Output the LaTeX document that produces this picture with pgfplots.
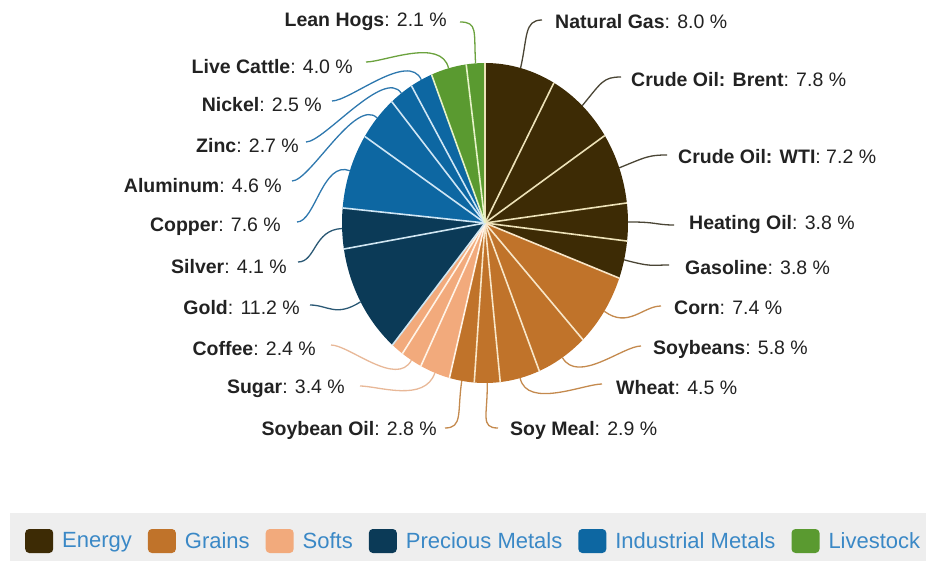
\documentclass[border=0pt]{standalone}
\usepackage{pgfplots}
\pgfplotsset{compat=1.18}
\usepackage{pgfplotstable}
\usepackage{fontspec}
\setmainfont{Liberation Sans}
\definecolor{energy}{HTML}{3D2B05}
\definecolor{grains}{HTML}{C0732A}
\definecolor{softs}{HTML}{F2AA7C}
\definecolor{precious}{HTML}{0B3A57}
\definecolor{industrial}{HTML}{0D67A2}
\definecolor{livestock}{HTML}{5A9A30}
\definecolor{energyS}{HTML}{EDE2B8}
\definecolor{grainsS}{HTML}{F8E6C8}
\definecolor{softsS}{HTML}{FFF3E6}
\definecolor{preciousS}{HTML}{D0E6F2}
\definecolor{industrialS}{HTML}{CFE6F5}
\definecolor{livestockS}{HTML}{E6F2C8}
\definecolor{energyL}{HTML}{4A4535}
\definecolor{grainsL}{HTML}{C48A4E}
\definecolor{softsL}{HTML}{E8B898}
\definecolor{preciousL}{HTML}{2A5874}
\definecolor{industrialL}{HTML}{2E78AE}
\definecolor{livestockL}{HTML}{6BA23E}
\definecolor{legtext}{HTML}{3A88C6}
\definecolor{labtext}{HTML}{222222}
\definecolor{legband}{HTML}{EEEEEE}

\pgfplotsset{legbox/.style={legend image code/.code={\path[##1,rounded corners=4pt] (0pt,-12pt) rectangle (28pt,12pt);}}}

% name, weight (%), group, label x/y (px, y downwards), side, leader end x/y
\pgfplotstableread[col sep=comma]{
name,value,group,lx,ly,side,ex,ey
Natural Gas,8.0,energy,555,22,w,542,20
Crude Oil: Brent,7.8,energy,631,80,w,621,77
Crude Oil: WTI,7.2,energy,678,157,w,667,155
Heating Oil,3.8,energy,689,225,w,674,225
Gasoline,3.8,energy,685,268,w,669,265
Corn,7.4,grains,674,308,w,661,306
Soybeans,5.8,grains,653,349,w,641,346
Wheat,4.5,grains,616,388,w,602,384
Soy Meal,2.9,grains,510,430,w,498,428
Soybean Oil,2.8,grains,437,430,e,445,428
Sugar,3.4,softs,345,389,e,360,386
Coffee,2.4,softs,316,349,e,331,345
Cotton,1.4,softs,0,0,n,0,0
Gold,11.2,precious,300,308,e,310,305
Silver,4.1,precious,287,267,e,298,262
Copper,7.6,industrial,281,227,e,297,222
Aluminum,4.6,industrial,282,186,e,292,181
Zinc,2.7,industrial,299,146,e,306,142
Nickel,2.5,industrial,322,105,e,332,101
Live Cattle,4.0,livestock,353,67,e,366,62
Lean Hogs,2.1,livestock,447,22,e,460,22
}\commodities

\begin{document}
\begin{tikzpicture}
\pgfplotstablegetrowsof{\commodities}
\pgfmathtruncatemacro\lastrow{\pgfplotsretval-1}
\xdef\cum{0}
\def\sideN{n}
\foreach \i in {0,...,\lastrow}{%
  \pgfplotstablegetelem{\i}{value}\of\commodities \let\val\pgfplotsretval
  \pgfplotstablegetelem{\i}{name}\of\commodities \let\nm\pgfplotsretval
  \pgfplotstablegetelem{\i}{group}\of\commodities \let\grp\pgfplotsretval
  \pgfplotstablegetelem{\i}{lx}\of\commodities \let\lx\pgfplotsretval
  \pgfplotstablegetelem{\i}{ly}\of\commodities \let\ly\pgfplotsretval
  \pgfplotstablegetelem{\i}{side}\of\commodities \let\side\pgfplotsretval
  \pgfplotstablegetelem{\i}{ex}\of\commodities \let\ex\pgfplotsretval
  \pgfplotstablegetelem{\i}{ey}\of\commodities \let\ey\pgfplotsretval
  \pgfmathsetmacro\sa{90-3.6*\cum}%
  \pgfmathsetmacro\newcum{\cum+\val}%
  \xdef\cum{\newcum}%
  \pgfmathsetmacro\ea{90-3.6*\cum}%
  \pgfmathsetmacro\ma{(\sa+\ea)/2}%
  \pgfmathsetmacro\sx{485+143*cos(\ma)}%
  \pgfmathsetmacro\sy{223-160*sin(\ma)}%
  \pgfmathsetmacro\cx{485+143*1.2*cos(\ma)}%
  \pgfmathsetmacro\cy{223-160*1.2*sin(\ma)}%
  \expandafter\xdef\csname pieSA\i\endcsname{\sa}%
  \expandafter\xdef\csname pieEA\i\endcsname{\ea}%
  \expandafter\xdef\csname pieGR\i\endcsname{\grp}%
  \ifx\side\sideN
    \expandafter\gdef\csname pieLBL\i\endcsname{}%
  \else
    \if w\side
      \def\anc{west}\pgfmathsetmacro\ccx{\ex-18}%
    \else
      \def\anc{east}\pgfmathsetmacro\ccx{\ex+18}%
    \fi
    \expandafter\xdef\csname pieLBL\i\endcsname{%
      \noexpand\draw[\grp L, line width=1.3pt]
        (axis cs:\sx,\sy) .. controls (axis cs:\cx,\cy) and (axis cs:\ccx,\ey) .. (axis cs:\ex,\ey);
      \noexpand\node[anchor=\anc, inner sep=0pt, text=labtext,
        font=\noexpand\fontsize{19.5}{22}\noexpand\selectfont]
        at (axis cs:\lx,\ly) {\noexpand\textbf{\nm}: \val\space\noexpand\%};}%
  \fi
}
\begin{axis}[
  width=926pt, height=561pt, scale only axis,
  xmin=0, xmax=926, ymin=0, ymax=561, y dir=reverse,
  hide axis, clip=false,
  legend columns=6,
  legend style={at={(axis cs:22,541)}, anchor=west, draw=none, fill=none, overlay,
    font=\fontsize{22}{24}\selectfont, text=legtext,
    /tikz/every odd column/.append style={column sep=7pt},
    /tikz/every even column/.append style={column sep=14pt}},
]
\path (axis cs:0,0) rectangle (axis cs:926,561);
\fill[legband] (axis cs:10,513) rectangle (axis cs:926,561);
\pgfplotsinvokeforeach{0,...,\lastrow}{%
  \edef\tmp{\noexpand\fill[\csname pieGR#1\endcsname] (axis cs:485,223) -- ++(\csname pieSA#1\endcsname:143pt and 160pt)
    arc[start angle=\csname pieSA#1\endcsname, end angle=\csname pieEA#1\endcsname, x radius=143pt, y radius=160pt] -- cycle;}%
  \tmp
}
\pgfplotsinvokeforeach{0,...,\lastrow}{%
  \edef\tmp{\noexpand\draw[\csname pieGR#1\endcsname S, line width=1.6pt] (axis cs:485,223) -- ++(\csname pieSA#1\endcsname:143pt and 160pt);}%
  \tmp
}
\pgfplotsinvokeforeach{0,...,\lastrow}{\csname pieLBL#1\endcsname}
\addlegendimage{legbox, fill=energy, draw=none}
\addlegendentry{Energy}
\addlegendimage{legbox, fill=grains, draw=none}
\addlegendentry{Grains}
\addlegendimage{legbox, fill=softs, draw=none}
\addlegendentry{Softs}
\addlegendimage{legbox, fill=precious, draw=none}
\addlegendentry{Precious Metals}
\addlegendimage{legbox, fill=industrial, draw=none}
\addlegendentry{Industrial Metals}
\addlegendimage{legbox, fill=livestock, draw=none}
\addlegendentry{Livestock}
\end{axis}
\end{tikzpicture}
\end{document}
